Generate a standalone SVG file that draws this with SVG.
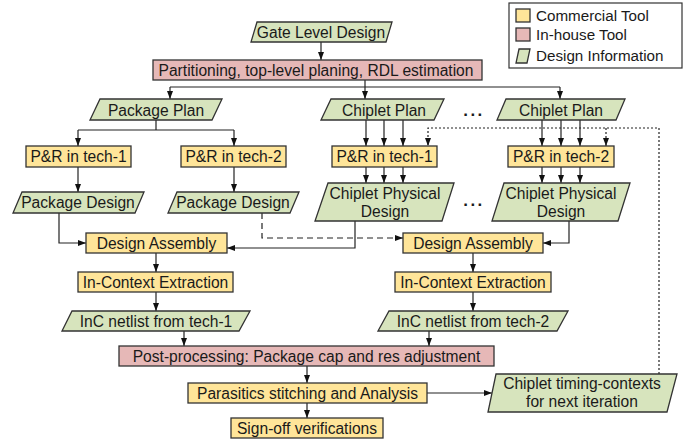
<svg xmlns="http://www.w3.org/2000/svg" width="697" height="443" viewBox="0 0 697 443">
<style>
text{font-family:"Liberation Sans",Arial,sans-serif;font-size:15.6px;fill:#1a1a1a;text-anchor:middle}
.y{fill:#ffe599;stroke:#333;stroke-width:1.3}
.p{fill:#e6b8b7;stroke:#333;stroke-width:1.3}
.g{fill:#d7e4bd;stroke:#333;stroke-width:1.3}
.c path{fill:none;stroke:#222;stroke-width:1.2}
.lg{font-size:15.2px;text-anchor:start}
.dt{font-size:17px;font-weight:bold;letter-spacing:2.5px}
</style>
<defs>
<marker id="a" markerWidth="8" markerHeight="6" refX="8" refY="3" orient="auto" markerUnits="userSpaceOnUse"><path d="M0,0 L8,3 L0,6 z" fill="#111"/></marker>
</defs>
<rect width="697" height="443" fill="#fff"/>
<g id="legend">
<rect x="509" y="3" width="173" height="65" fill="#fff" stroke="#333" stroke-width="1.2"/>
<rect class="y" x="516" y="9" width="14" height="13"/>
<text class="lg" x="536" y="21">Commercial Tool</text>
<rect class="p" x="516" y="28" width="14" height="13"/>
<text class="lg" x="536" y="40">In-house Tool</text>
<polygon class="g" points="519,49 530,49 527,63 516,63"/>
<text class="lg" x="536" y="61">Design Information</text>
</g>
<g class="c" id="connectors">
<path d="M321,42 V60" marker-end="url(#a)"/>
<path d="M365,80 V99" marker-end="url(#a)"/>
<path d="M170,87 H560"/>
<path d="M170,87 V99" marker-end="url(#a)"/>
<path d="M560,87 V99" marker-end="url(#a)"/>
<path d="M156,120 V130 M78,130 H234"/>
<path d="M78,130 V146" marker-end="url(#a)"/>
<path d="M234,130 V146" marker-end="url(#a)"/>
<path d="M78,167 V192" marker-end="url(#a)"/>
<path d="M234,167 V192" marker-end="url(#a)"/>
<path d="M59,213 V243 H86" marker-end="url(#a)"/>
<path d="M355,221 V248 H227" marker-end="url(#a)"/>
<path d="M262,213 V238 H403" stroke-dasharray="6,4" marker-end="url(#a)"/>
<path d="M569,221 V243 H543" marker-end="url(#a)"/>
<path d="M366,120 V146" marker-end="url(#a)"/>
<path d="M384,120 V146" marker-end="url(#a)"/>
<path d="M403,120 V146" marker-end="url(#a)"/>
<path d="M366,167 V183" marker-end="url(#a)"/>
<path d="M384,167 V183" marker-end="url(#a)"/>
<path d="M403,167 V183" marker-end="url(#a)"/>
<path d="M542,120 V146" marker-end="url(#a)"/>
<path d="M561,120 V146" marker-end="url(#a)"/>
<path d="M580,120 V146" marker-end="url(#a)"/>
<path d="M542,167 V183" marker-end="url(#a)"/>
<path d="M561,167 V183" marker-end="url(#a)"/>
<path d="M580,167 V183" marker-end="url(#a)"/>
<path d="M156,253 V272" marker-end="url(#a)"/>
<path d="M473,253 V272" marker-end="url(#a)"/>
<path d="M156,292 V311" marker-end="url(#a)"/>
<path d="M473,292 V311" marker-end="url(#a)"/>
<path d="M184,331 V346" marker-end="url(#a)"/>
<path d="M429,331 V346" marker-end="url(#a)"/>
<path d="M307,366 V383" marker-end="url(#a)"/>
<path d="M307,403 V418" marker-end="url(#a)"/>
<path d="M427,393 H492" marker-end="url(#a)"/>
<path d="M659,374 V128 H428 V146" stroke-dasharray="2,2" marker-end="url(#a)"/>
<path d="M606,128 V146" stroke-dasharray="2,2" marker-end="url(#a)"/>
</g>
<g id="gate"><polygon class="g" points="257,22 392,22 386,42 251,42"/><text x="321" y="37.5">Gate Level Design</text></g>
<g id="partition"><rect class="p" x="153" y="60" width="329" height="20"/><text x="316" y="75.5">Partitioning, top-level planing, RDL estimation</text></g>
<g id="pkgplan"><polygon class="g" points="100,99 222,99 212,120 90,120"/><text x="156" y="115.5">Package Plan</text></g>
<g id="cplan1"><polygon class="g" points="331,99 444,99 434,120 321,120"/><text x="384" y="115.5">Chiplet Plan</text></g>
<g id="cplan2"><polygon class="g" points="506,99 625,99 616,120 497,120"/><text x="561" y="115.5">Chiplet Plan</text></g>
<g id="dots1"><text class="dt" x="474" y="116">...</text></g>
<g id="pr1"><rect class="y" x="26" y="146" width="105" height="21"/><text x="78.5" y="162">P&amp;R in tech-1</text></g>
<g id="pr2"><rect class="y" x="181" y="146" width="105" height="21"/><text x="233.5" y="162">P&amp;R in tech-2</text></g>
<g id="pr3"><rect class="y" x="332" y="146" width="105" height="21"/><text x="384.5" y="162">P&amp;R in tech-1</text></g>
<g id="pr4"><rect class="y" x="508" y="146" width="106" height="21"/><text x="561" y="162">P&amp;R in tech-2</text></g>
<g id="pkgd1"><polygon class="g" points="22,192 144,192 135,213 13,213"/><text x="78" y="208">Package Design</text></g>
<g id="pkgd2"><polygon class="g" points="177,192 299,192 290,213 168,213"/><text x="233" y="208">Package Design</text></g>
<g id="cpd1"><polygon class="g" points="328,183 454,183 442,221 315,221"/><text x="385" y="199">Chiplet Physical</text><text x="385" y="217">Design</text></g>
<g id="cpd2"><polygon class="g" points="504,183 630,183 618,221 492,221"/><text x="561" y="199">Chiplet Physical</text><text x="561" y="217">Design</text></g>
<g id="dots2"><text class="dt" x="474" y="206">...</text></g>
<g id="da1"><rect class="y" x="86" y="233" width="141" height="20"/><text x="156.5" y="248.5">Design Assembly</text></g>
<g id="da2"><rect class="y" x="403" y="233" width="140" height="20"/><text x="473" y="248.5">Design Assembly</text></g>
<g id="ice1"><rect class="y" x="78" y="272" width="155" height="20"/><text x="155.5" y="287.5">In-Context Extraction</text></g>
<g id="ice2"><rect class="y" x="395" y="272" width="156" height="20"/><text x="473" y="287.5">In-Context Extraction</text></g>
<g id="inc1"><polygon class="g" points="72,311 250,311 239,331 62,331"/><text x="156" y="326.5">InC netlist from tech-1</text></g>
<g id="inc2"><polygon class="g" points="389,311 568,311 557,331 378,331"/><text x="473" y="326.5">InC netlist from tech-2</text></g>
<g id="post"><rect class="p" x="119" y="346" width="375" height="20"/><text x="306.5" y="361.5">Post-processing: Package cap and res adjustment</text></g>
<g id="para"><rect class="y" x="188" y="383" width="239" height="20"/><text x="307.5" y="398.5">Parasitics stitching and Analysis</text></g>
<g id="signoff"><rect class="y" x="231" y="418" width="152" height="20"/><text x="307" y="433.5">Sign-off verifications</text></g>
<g id="timing"><polygon class="g" points="496,374 677,374 667,412 488,412"/><text x="582" y="389">Chiplet timing-contexts</text><text x="582" y="407">for next iteration</text></g>
</svg>
